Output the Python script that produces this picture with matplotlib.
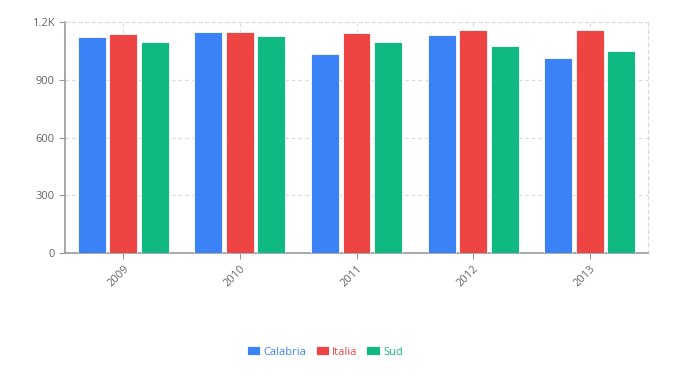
import numpy as np
import matplotlib.pyplot as plt

years = ['2009', '2010', '2011', '2012', '2013']
calabria = [1122, 1148, 1035, 1132, 1015]
italia = [1136, 1150, 1144, 1157, 1160]
sud = [1098, 1127, 1094, 1077, 1051]

series = [('Calabria', calabria, '#3B82F6'),
          ('Italia', italia, '#EF4444'),
          ('Sud', sud, '#10B981')]

plt.rcParams['font.family'] = ['Open Sans', 'DejaVu Sans']

fig = plt.figure(figsize=(6.86, 3.90), dpi=100)
ax = fig.add_axes([65 / 686, 137 / 390, 583 / 686, 231 / 390])

x = np.arange(len(years))
w = 0.24
step = 0.27
for i, (name, vals, col) in enumerate(series):
    ax.bar(x + (i - 1) * step, vals, width=w, color=col, edgecolor='white',
           linewidth=0.6, label=name, zorder=3)

ax.set_xlim(-0.5, len(years) - 0.5)
ax.set_ylim(0, 1200)
ax.set_yticks([0, 300, 600, 900, 1200])
ax.set_yticklabels(['0', '300', '600', '900', '1.2K'])
ax.set_xticks(x)
ax.set_xticklabels(years, rotation=45, ha='right', va='top', rotation_mode='anchor')

ax.grid(True, color='#d9d9d9', linestyle=(0, (3, 3)), linewidth=0.8, zorder=0)
for side in ['top', 'right']:
    ax.spines[side].set_visible(True)
    ax.spines[side].set_color('#d9d9d9')
    ax.spines[side].set_linestyle((0, (3, 3)))
    ax.spines[side].set_linewidth(0.8)
for side in ['left', 'bottom']:
    ax.spines[side].set_color('#999999')
    ax.spines[side].set_linewidth(1.2)

ax.tick_params(axis='both', colors='#999999', labelcolor='#666666', labelsize=8, length=4)

leg = fig.legend(loc='center', bbox_to_anchor=(325 / 686, 1 - 352 / 390), ncol=3,
                 frameon=False, fontsize=8, handlelength=1.2, handleheight=0.8,
                 handletextpad=0.3, columnspacing=0.8)
for txt, (_, _, col) in zip(leg.get_texts(), series):
    txt.set_color(col)

fig.savefig('out.png', dpi=100)
